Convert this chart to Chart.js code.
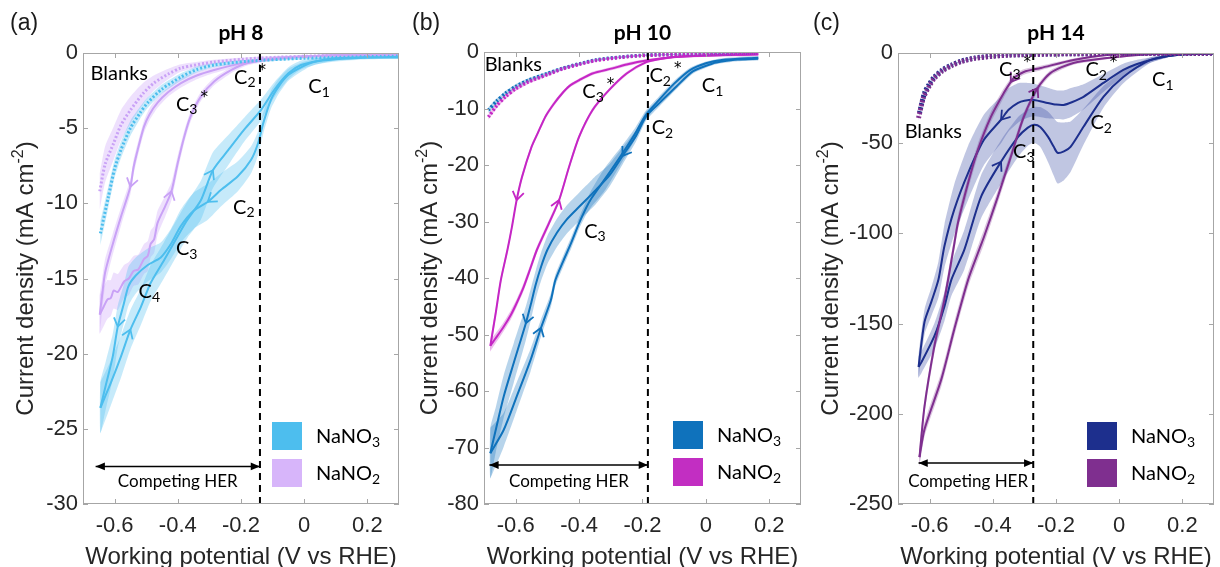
<!DOCTYPE html>
<html>
<head>
<meta charset="UTF-8">
<script src="https://cdn.jsdelivr.net/npm/chart.js@4.4.1/dist/chart.umd.min.js"></script>
<style>
  body { margin: 0; background: #fff; }
  #wrap { position: relative; width: 1220px; height: 567px; }
  canvas { position: absolute; top: 0; }
</style>
</head>
<body>
<div id="wrap">
  <canvas id="ph8" width="405" height="567" style="left:0"></canvas>
  <canvas id="ph10" width="405" height="567" style="left:405px"></canvas>
  <canvas id="ph14" width="410" height="567" style="left:810px"></canvas>
</div>
<script>
// ticks
const potTicks = [-0.6, -0.4, -0.2, 0, 0.2];
const potTickText = ['-0.6', '-0.4', '-0.2', '0', '0.2'];
const ph8CurTicks = [-30, -25, -20, -15, -10, -5, 0];
const ph10CurTicks = [-80, -70, -60, -50, -40, -30, -20, -10, 0];
const ph14CurTicks = [-250, -200, -150, -100, -50, 0];

// each point: [potential V vs RHE, current density mA/cm2, spread mA/cm2]
// ---- pH 8 ----
const ph8NO3Cath = [
  [0.30,-0.30,0.10],[0.20,-0.32,0.10],[0.10,-0.42,0.15],[0.03,-0.60,0.20],[-0.01,-0.95,0.30],
  [-0.05,-1.45,0.40],[-0.08,-2.20,0.50],[-0.105,-3.10,0.60],[-0.13,-4.70,0.70],[-0.146,-6.00,0.80],
  [-0.168,-7.10,0.90],[-0.21,-8.20,1.00],[-0.263,-9.10,1.10],[-0.305,-9.90,1.20],[-0.35,-10.50,1.20],
  [-0.39,-11.50,1.10],[-0.422,-12.70,1.00],[-0.454,-13.60,1.00],[-0.495,-14.10,1.10],[-0.533,-14.80,1.20],
  [-0.556,-15.50,1.30],[-0.571,-16.70,1.30],[-0.59,-18.20,1.40],[-0.606,-20.20,1.50],[-0.629,-22.20,1.60],
  [-0.645,-23.60,1.70]
];
const ph8NO3Anod = [
  [-0.645,-23.60,1.70],[-0.613,-22.00,1.50],[-0.58,-20.20,1.40],[-0.55,-18.40,1.30],[-0.517,-16.90,1.20],
  [-0.486,-15.30,1.20],[-0.444,-13.80,1.20],[-0.39,-11.80,1.20],[-0.37,-11.10,1.20],[-0.327,-9.80,1.30],
  [-0.289,-7.80,1.20],[-0.24,-6.45,1.00],[-0.19,-5.10,0.80],[-0.137,-3.80,0.70],[-0.095,-2.46,0.50],
  [-0.05,-1.35,0.40],[-0.01,-0.80,0.30],[0.05,-0.50,0.20],[0.10,-0.35,0.15],[0.20,-0.25,0.10],[0.30,-0.20,0.10]
];
const ph8NO2Cath = [
  [0.30,-0.08,0.05],[0.10,-0.15,0.05],[-0.10,-0.35,0.10],[-0.20,-0.69,0.15],[-0.285,-1.13,0.20],
  [-0.34,-1.50,0.25],[-0.39,-2.00,0.30],[-0.43,-2.60,0.30],[-0.464,-3.30,0.35],[-0.49,-4.10,0.40],
  [-0.507,-4.90,0.40],[-0.527,-6.45,0.45],[-0.54,-7.60,0.50],[-0.55,-8.90,0.50],[-0.58,-10.90,0.60],
  [-0.607,-12.80,0.70],[-0.63,-14.60,0.90],[-0.64,-16.20,1.10],[-0.647,-17.40,1.30]
];
const ph8NO2Anod = [
  [-0.647,-17.40,1.30],[-0.635,-16.90,1.30],[-0.623,-16.40,1.30],[-0.612,-16.30,1.20],[-0.603,-15.80,1.20],
  [-0.59,-15.90,1.20],[-0.57,-15.20,1.10],[-0.555,-15.00,1.10],[-0.54,-14.50,1.00],[-0.525,-14.40,1.00],
  [-0.507,-13.70,1.00],[-0.495,-13.50,1.00],[-0.486,-12.70,0.90],[-0.475,-12.40,0.90],[-0.464,-11.30,0.80],
  [-0.44,-10.20,0.70],[-0.42,-9.20,0.60],[-0.40,-7.30,0.50],[-0.38,-5.60,0.40],[-0.36,-4.25,0.35],
  [-0.327,-2.90,0.30],[-0.285,-1.90,0.25],[-0.23,-1.13,0.20],[-0.178,-0.67,0.15],[-0.073,-0.35,0.10],
  [0.10,-0.15,0.05],[0.30,-0.08,0.05]
];
const ph8NO3Blank = [
  [-0.645,-12.00,0.80],[-0.62,-9.60,0.70],[-0.60,-7.70,0.60],[-0.58,-6.45,0.55],[-0.55,-5.00,0.50],
  [-0.52,-4.00,0.40],[-0.495,-3.30,0.35],[-0.45,-2.40,0.30],[-0.39,-1.60,0.25],[-0.34,-1.10,0.20],
  [-0.285,-0.80,0.15],[-0.18,-0.55,0.10],[0.00,-0.35,0.08],[0.30,-0.20,0.05]
];
const ph8NO2Blank = [
  [-0.647,-9.20,1.20],[-0.63,-7.40,1.20],[-0.603,-6.00,1.10],[-0.58,-4.80,1.00],[-0.55,-3.80,0.90],
  [-0.51,-2.70,0.70],[-0.476,-2.00,0.50],[-0.43,-1.40,0.35],[-0.39,-1.00,0.25],[-0.285,-0.60,0.15],
  [-0.15,-0.35,0.10],[0.10,-0.15,0.05],[0.30,-0.10,0.05]
];

// ---- pH 10 ----
const ph10NO3Cath = [
  [0.165,-1.20,0.30],[0.10,-1.35,0.30],[0.05,-1.70,0.30],[0.023,-2.00,0.30],[-0.04,-3.40,0.40],
  [-0.093,-6.10,0.50],[-0.146,-9.00,0.60],[-0.188,-11.30,0.80],[-0.22,-14.80,1.00],[-0.263,-18.40,1.50],
  [-0.305,-21.90,2.00],[-0.347,-24.40,2.50],[-0.368,-25.60,2.50],[-0.40,-27.40,2.50],[-0.44,-29.70,2.50],
  [-0.47,-32.00,2.50],[-0.50,-35.00,2.50],[-0.52,-38.00,2.50],[-0.537,-41.20,2.50],[-0.552,-44.60,2.80],
  [-0.568,-48.00,3.00],[-0.606,-55.00,3.50],[-0.638,-61.00,3.80],[-0.663,-66.90,4.00],[-0.68,-71.00,4.50]
];
const ph10NO3Anod = [
  [-0.68,-71.00,4.50],[-0.638,-66.90,3.00],[-0.597,-61.00,2.50],[-0.553,-54.50,2.00],[-0.52,-48.80,1.50],
  [-0.489,-43.90,1.20],[-0.475,-40.40,1.00],[-0.45,-37.00,1.00],[-0.425,-33.80,1.00],[-0.40,-30.30,1.00],
  [-0.378,-27.60,1.20],[-0.36,-25.80,1.50],[-0.32,-22.60,2.00],[-0.27,-18.50,1.50],[-0.225,-14.60,1.00],
  [-0.19,-11.20,0.80],[-0.15,-8.60,0.60],[-0.10,-5.60,0.50],[-0.05,-3.20,0.40],[0.00,-2.00,0.30],
  [0.05,-1.40,0.30],[0.165,-1.00,0.30]
];
const ph10NO2Cath = [
  [0.165,-0.40,0.20],[0.00,-0.60,0.20],[-0.10,-0.90,0.20],[-0.188,-1.50,0.25],[-0.25,-2.20,0.30],
  [-0.295,-2.90,0.30],[-0.358,-3.80,0.30],[-0.40,-5.00,0.30],[-0.43,-6.00,0.30],[-0.453,-7.30,0.35],
  [-0.48,-9.20,0.40],[-0.506,-11.40,0.40],[-0.53,-14.30,0.40],[-0.55,-16.80,0.45],[-0.58,-22.10,0.50],
  [-0.597,-26.20,0.50],[-0.612,-31.00,0.60],[-0.626,-35.00,0.60],[-0.647,-40.40,0.70],[-0.663,-46.20,0.80],
  [-0.68,-52.00,1.00]
];
const ph10NO2Anod = [
  [-0.68,-52.00,1.00],[-0.665,-50.80,0.90],[-0.64,-48.80,0.80],[-0.615,-46.50,0.80],[-0.595,-44.20,0.70],
  [-0.575,-41.60,0.70],[-0.555,-38.50,0.70],[-0.533,-35.00,0.60],[-0.495,-30.30,0.60],[-0.463,-26.20,0.50],
  [-0.432,-20.40,0.50],[-0.40,-15.00,0.40],[-0.358,-10.30,0.40],[-0.305,-6.70,0.30],[-0.25,-3.80,0.30],
  [-0.188,-1.80,0.25],[-0.13,-1.10,0.20],[-0.083,-0.80,0.20],[0.165,-0.40,0.20]
];
const ph10NO3Blank = [
  [-0.686,-10.30,0.50],[-0.66,-8.70,0.45],[-0.632,-7.30,0.40],[-0.60,-6.10,0.40],[-0.56,-5.00,0.35],
  [-0.50,-3.80,0.30],[-0.453,-2.90,0.25],[-0.40,-2.10,0.20],[-0.347,-1.40,0.20],[-0.27,-0.90,0.15],
  [-0.188,-0.55,0.10],[0.00,-0.30,0.10],[0.165,-0.20,0.10]
];
const ph10NO2Blank = [
  [-0.686,-11.50,0.50],[-0.66,-9.50,0.45],[-0.632,-7.90,0.40],[-0.60,-6.50,0.40],[-0.56,-5.30,0.35],
  [-0.50,-4.00,0.30],[-0.453,-3.00,0.25],[-0.40,-2.20,0.20],[-0.347,-1.50,0.20],[-0.27,-0.95,0.15],
  [-0.188,-0.60,0.10],[0.00,-0.30,0.10],[0.165,-0.20,0.10]
];

// ---- pH 14 ----
const ph14NO3Cath = [
  [0.30,-0.30,0.30],[0.20,-0.80,0.50],[0.15,-1.80,0.80],[0.097,-4.00,1.50],[0.05,-6.50,2.50],
  [0.013,-9.40,3.50],[-0.05,-16.60,5.00],[-0.113,-24.30,7.00],[-0.15,-27.30,8.00],[-0.176,-28.80,8.00],
  [-0.20,-28.60,8.00],[-0.226,-27.70,8.50],[-0.27,-26.00,9.00],[-0.30,-26.50,10.00],[-0.32,-27.70,11.00],
  [-0.35,-31.50,12.00],[-0.374,-37.00,13.00],[-0.428,-48.10,14.00],[-0.478,-66.40,15.00],[-0.522,-86.80,14.00],
  [-0.553,-107.00,12.00],[-0.572,-125.60,10.00],[-0.594,-137.70,8.00],[-0.616,-149.00,7.00],[-0.635,-174.00,6.00]
];
const ph14NO3Anod = [
  [-0.635,-174.00,6.00],[-0.626,-171.50,6.00],[-0.585,-157.00,7.00],[-0.553,-140.50,8.00],[-0.531,-125.60,9.00],
  [-0.49,-109.00,11.00],[-0.437,-79.60,12.00],[-0.374,-60.30,12.00],[-0.32,-46.50,11.00],[-0.29,-41.50,10.00],
  [-0.27,-39.80,10.00],[-0.25,-41.00,11.00],[-0.225,-46.50,14.00],[-0.207,-52.00,16.00],[-0.195,-55.30,17.00],
  [-0.175,-54.50,16.00],[-0.154,-52.00,14.00],[-0.113,-40.90,10.00],[-0.05,-24.30,6.00],[0.013,-13.30,3.50],
  [0.097,-4.00,1.50],[0.15,-1.80,0.80],[0.20,-0.80,0.50],[0.30,-0.30,0.30]
];
const ph14NO2Cath = [
  [0.30,-0.10,0.20],[0.10,-0.50,0.30],[-0.038,-1.10,0.50],[-0.145,-3.90,0.80],[-0.248,-8.30,1.20],
  [-0.302,-10.50,1.50],[-0.333,-13.80,2.00],[-0.343,-16.00,2.00],[-0.365,-22.10,2.50],[-0.406,-35.40,3.00],
  [-0.447,-53.60,3.50],[-0.478,-71.90,4.00],[-0.51,-94.00,4.00],[-0.525,-109.00,4.00],[-0.553,-136.60,4.00],
  [-0.585,-162.60,4.00],[-0.616,-195.80,4.00],[-0.632,-224.00,5.00]
];
const ph14NO2Anod = [
  [-0.632,-224.00,5.00],[-0.616,-208.50,4.00],[-0.563,-180.90,4.00],[-0.522,-153.20,4.00],[-0.478,-125.60,4.00],
  [-0.443,-109.00,4.00],[-0.428,-102.00,4.00],[-0.384,-79.60,3.50],[-0.343,-57.50,3.00],[-0.302,-35.40,2.50],
  [-0.258,-19.40,2.00],[-0.217,-11.00,1.50],[-0.145,-5.50,1.00],[-0.038,-2.80,0.60],[0.05,-1.20,0.40],
  [0.15,-0.40,0.20],[0.30,-0.10,0.20]
];
const ph14NO3Blank = [
  [-0.632,-33.20,1.50],[-0.616,-22.10,1.20],[-0.60,-17.00,1.00],[-0.585,-13.30,0.80],[-0.56,-9.50,0.60],
  [-0.53,-6.60,0.50],[-0.50,-4.50,0.40],[-0.458,-2.80,0.30],[-0.40,-1.70,0.20],[-0.352,-1.10,0.20],
  [-0.195,-0.50,0.10],[0.00,-0.30,0.10],[0.30,-0.20,0.10]
];
const ph14NO2Blank = [
  [-0.635,-36.00,1.50],[-0.62,-25.00,1.20],[-0.60,-18.00,1.00],[-0.585,-14.00,0.80],[-0.56,-10.00,0.60],
  [-0.53,-7.00,0.50],[-0.50,-4.80,0.40],[-0.458,-3.00,0.30],[-0.40,-1.80,0.20],[-0.352,-1.20,0.20],
  [-0.195,-0.50,0.10],[0.00,-0.30,0.10],[0.30,-0.20,0.10]
];

const textFont = 'Lato, "Open Sans", sans-serif';
const axisFont = '"Liberation Sans", Arial, sans-serif';
const starFont = '"DejaVu Sans", sans-serif';

// panel settings: colours, HER onset, labels
const panels = {
  ph8: {
    tag: '(a)', tagX: 10, title: 'pH 8', yMin: -30, curTicks: ph8CurTicks, yTitleX: 33,
    pad: { left: 0, right: 6, top: 53, bottom: 0 }, yWidth: 83, blankWidth: 3,
    color: ['#4DBEEE', '#C9A2F6'], band: ['rgba(77,190,238,0.32)', 'rgba(205,165,250,0.35)'],
    swatch: ['#4DBEEE', '#D7B5FA'],
    no3: [ph8NO3Cath, ph8NO3Anod], no2: [ph8NO2Cath, ph8NO2Anod], blanks: [ph8NO3Blank, ph8NO2Blank],
    arrows: [[-0.305, -0.59], [-0.55, -0.289], [-0.55], [-0.42]],
    herOnset: -0.14, her: [-0.66, -27.5],
    notes: [['Blanks', -0.676, -1.35], ['C_3^*', -0.406, -3.4], ['C_2^*', -0.222, -1.6], ['C_1', 0.013, -2.26],
            ['C_2', -0.225, -10.25], ['C_3', -0.406, -13.0], ['C_4', -0.524, -15.9],
            ['Competing HER', -0.40, -28.5, 'center']]
  },
  ph10: {
    tag: '(b)', tagX: 7, title: 'pH 10', yMin: -80, curTicks: ph10CurTicks, yTitleX: 32,
    pad: { left: 0, right: 9, top: 52, bottom: 0 }, yWidth: 79, blankWidth: 3.5,
    color: ['#0F72BC', '#C526C5'], band: ['rgba(15,114,188,0.3)', 'rgba(197,38,197,0.3)'],
    swatch: ['#0F72BC', '#C22EC2'],
    no3: [ph10NO3Cath, ph10NO3Anod], no2: [ph10NO2Cath, ph10NO2Anod], blanks: [ph10NO3Blank, ph10NO2Blank],
    arrows: [[-0.263, -0.568], [-0.52], [-0.597], [-0.463]],
    herOnset: -0.183, her: [-0.683, -73.1],
    notes: [['Blanks', -0.698, -2.3], ['C_3^*', -0.39, -7.0], ['C_2^*', -0.178, -4.2], ['C_1', -0.013, -6.0],
            ['C_2', -0.171, -13.4], ['C_3', -0.384, -31.7],
            ['Competing HER', -0.432, -76.1, 'center']]
  },
  ph14: {
    tag: '(c)', tagX: 3, title: 'pH 14', yMin: -250, curTicks: ph14CurTicks, yTitleX: 28,
    pad: { left: 0, right: 6, top: 53, bottom: 0 }, yWidth: 88, blankWidth: 5,
    color: ['#1D2F8D', '#7F2F8F'], band: ['rgba(45,65,160,0.3)', 'rgba(127,47,143,0.28)'],
    swatch: ['#1D2F8D', '#7F2F8F'],
    no3: [ph14NO3Cath, ph14NO3Anod], no2: [ph14NO2Cath, ph14NO2Anod], blanks: [ph14NO3Blank, ph14NO2Blank],
    arrows: [[-0.374], [-0.374], [-0.343], [-0.258]],
    herOnset: -0.272, her: [-0.635, -227.3],
    notes: [['C_3^*', -0.38, -8.9], ['C_2^*', -0.107, -9.4], ['C_1', 0.104, -14.9], ['Blanks', -0.679, -43.7],
            ['C_2', -0.091, -38.7], ['C_3', -0.336, -54.8],
            ['Competing HER', -0.478, -237.8, 'center']]
  }
};

function xy(pts, k) { return pts.map(p => ({ x: p[0], y: p[1] + (k || 0) * (p[2] || 0) })); }

function line(pts, color, width, dash, arrowsAt) {
  return { data: xy(pts), borderColor: color, borderWidth: width, borderDash: dash, pointRadius: 0,
           showLine: true, fill: false, tension: 0.25, order: 1, arrowsAt: arrowsAt || [] };
}

// closed outline: upper edge forward, lower edge back
function spread(pts, color) {
  return { data: xy(pts, 1).concat(xy(pts, -1).reverse()), backgroundColor: color, borderColor: 'rgba(0,0,0,0)',
           borderWidth: 0, pointRadius: 0, showLine: true, fill: 'shape', tension: 0.2, order: 3 };
}

// parse "C_2^*" / "mA cm^{-2}" into plain, sub and sup runs
function runs(s) {
  const out = [];
  const re = /([_^])\{([^}]*)\}|([_^])(.)|([^_^]+)/g;
  let m;
  while ((m = re.exec(s))) {
    if (m[5]) out.push([m[5], '']);
    else if (m[1]) out.push([m[2], m[1] === '_' ? 'sub' : 'sup']);
    else out.push([m[4], m[3] === '_' ? 'sub' : 'sup']);
  }
  return out;
}

function drawRich(ctx, s, x, y, size, family, align) {
  const segs = runs(s).map(([t, k]) => {
    const star = t === '*';
    const fs = star ? Math.round(size * 0.75) : k ? Math.round(size * 0.68) : size;
    const fam = star ? starFont : family;
    ctx.font = fs + 'px ' + fam;
    return { t, k, fs, fam, w: ctx.measureText(t).width + (star ? 3 : 0) };
  });
  const total = segs.reduce((a, g) => a + g.w, 0);
  let cx = align === 'center' ? x - total / 2 : x;
  ctx.textAlign = 'left';
  segs.forEach(g => {
    ctx.font = g.fs + 'px ' + g.fam;
    const dy = g.k === 'sub' ? size * 0.28 : g.t === '*' ? -size * 0.32 : g.k === 'sup' ? -size * 0.42 : 0;
    ctx.fillText(g.t, cx + (g.t === '*' ? 3 : 0), y + dy);
    cx += g.w;
  });
}

const decor = {
  id: 'decor',
  afterDatasetsDraw(chart) {
    const ctx = chart.ctx;
    chart.data.datasets.forEach((ds, i) => {
      const els = chart.getDatasetMeta(i).data;
      (ds.arrowsAt || []).forEach(e => {
        let k = 1, best = Infinity;
        ds.data.forEach((p, j) => {
          if (j > 0 && j < ds.data.length - 1 && Math.abs(p.x - e) < best) { best = Math.abs(p.x - e); k = j; }
        });
        const a = els[k - 1], b = els[k + 1], c = els[k];
        const ang = Math.atan2(b.y - a.y, b.x - a.x);
        ctx.save();
        ctx.strokeStyle = ds.borderColor;
        ctx.lineWidth = 1.8;
        ctx.beginPath();
        [-0.6, 0.6].forEach(s => {
          ctx.moveTo(c.x, c.y);
          ctx.lineTo(c.x - 10 * Math.cos(ang + s), c.y - 10 * Math.sin(ang + s));
        });
        ctx.stroke();
        ctx.restore();
      });
      if (ds.heads) {
        const ends = [[els[0], els[1]], [els[els.length - 1], els[els.length - 2]]];
        ctx.save();
        ctx.fillStyle = '#000';
        ends.forEach(([tip, from]) => {
          const ang = Math.atan2(tip.y - from.y, tip.x - from.x);
          ctx.beginPath();
          ctx.moveTo(tip.x, tip.y);
          ctx.lineTo(tip.x - 10 * Math.cos(ang - 0.4), tip.y - 10 * Math.sin(ang - 0.4));
          ctx.lineTo(tip.x - 10 * Math.cos(ang + 0.4), tip.y - 10 * Math.sin(ang + 0.4));
          ctx.closePath();
          ctx.fill();
        });
        ctx.restore();
      }
    });
  },
  afterDraw(chart) {
    const p = panels[chart.canvas.id];
    const { ctx, chartArea: a } = chart;
    const x = chart.scales.x, y = chart.scales.y;
    ctx.save();

    // axes box with inward ticks
    ctx.strokeStyle = '#a6a6a6';
    ctx.lineWidth = 1;
    ctx.strokeRect(a.left + 0.5, a.top + 0.5, a.width - 1, a.height - 1);
    ctx.beginPath();
    x.ticks.forEach(t => {
      const px = Math.round(x.getPixelForValue(t.value)) + 0.5;
      ctx.moveTo(px, a.bottom); ctx.lineTo(px, a.bottom - 5);
      ctx.moveTo(px, a.top); ctx.lineTo(px, a.top + 5);
    });
    y.ticks.forEach(t => {
      const py = Math.round(y.getPixelForValue(t.value)) + 0.5;
      ctx.moveTo(a.left, py); ctx.lineTo(a.left + 5, py);
      ctx.moveTo(a.right, py); ctx.lineTo(a.right - 5, py);
    });
    ctx.stroke();

    // peak labels
    ctx.fillStyle = '#000';
    ctx.textBaseline = 'middle';
    p.notes.forEach(([s, e, j, al]) => {
      drawRich(ctx, s, x.getPixelForValue(e), y.getPixelForValue(j), al ? 17 : 20, textFont, al || 'left');
    });

    // legend swatches
    ['NaNO_3', 'NaNO_2'].forEach((s, i) => {
      const top = a.top + 369 + i * 37;
      ctx.fillStyle = p.swatch[i];
      ctx.fillRect(a.left + 189, top, 30, 28);
      ctx.fillStyle = '#000';
      drawRich(ctx, s, a.left + 233, top + 15, 20, textFont, 'left');
    });

    // titles
    const cx = (a.left + a.right) / 2;
    ctx.textBaseline = 'alphabetic';
    ctx.fillStyle = '#000';
    ctx.textAlign = 'center';
    ctx.font = 'bold 21px ' + textFont;
    ctx.fillText(p.title, cx, 40);
    ctx.textAlign = 'left';
    ctx.font = '23px ' + axisFont;
    ctx.fillStyle = '#1a1a1a';
    ctx.fillText(p.tag, p.tagX, 30);
    ctx.fillStyle = '#262626';
    drawRich(ctx, 'Working potential (V vs RHE)', cx, 564, 24, axisFont, 'center');
    ctx.translate(p.yTitleX, (a.top + a.bottom) / 2);
    ctx.rotate(-Math.PI / 2);
    drawRich(ctx, 'Current density (mA cm^{-2})', 0, 0, 24, axisFont, 'center');
    ctx.restore();
  }
};

function makePanel(id) {
  const p = panels[id];
  const datasets = [
    spread(p.blanks[0], p.band[0]), spread(p.blanks[1], p.band[1]),
    spread(p.no3[0], p.band[0]), spread(p.no3[1], p.band[0]),
    spread(p.no2[0], p.band[1]), spread(p.no2[1], p.band[1]),
    line(p.blanks[1], p.color[1], p.blankWidth, [2, 2]),
    line(p.blanks[0], p.color[0], p.blankWidth, [2, 2]),
    line(p.no2[0], p.color[1], 2, [], p.arrows[2]),
    line(p.no2[1], p.color[1], 2, [], p.arrows[3]),
    line(p.no3[0], p.color[0], 2, [], p.arrows[0]),
    line(p.no3[1], p.color[0], 2, [], p.arrows[1]),
    { data: [{ x: p.herOnset, y: p.yMin }, { x: p.herOnset, y: 0 }], borderColor: '#000', borderWidth: 2,
      borderDash: [7, 5], pointRadius: 0, showLine: true, order: 0 },
    { data: [{ x: p.her[0], y: p.her[1] }, { x: p.herOnset, y: p.her[1] }], borderColor: '#000', borderWidth: 1.5,
      pointRadius: 0, showLine: true, order: 0, heads: true }
  ];
  new Chart(document.getElementById(id), {
    type: 'scatter',
    data: { datasets },
    plugins: [decor],
    options: {
      responsive: false, animation: false, events: [], devicePixelRatio: 1,
      layout: { padding: p.pad },
      plugins: { legend: { display: false }, tooltip: { enabled: false } },
      scales: {
        x: {
          type: 'linear', min: -0.7, max: 0.3,
          afterBuildTicks: s => { s.ticks = potTicks.map(v => ({ value: v })); },
          afterFit: s => { s.height = 63; },
          grid: { display: false, drawTicks: false }, border: { display: false },
          ticks: { autoSkip: false, maxRotation: 0, padding: 9, color: '#262626',
                   font: { size: 22, family: axisFont }, callback: (v, i) => potTickText[i] }
        },
        y: {
          type: 'linear', min: p.yMin, max: 0,
          afterBuildTicks: s => { s.ticks = p.curTicks.map(v => ({ value: v })); },
          afterFit: s => { s.width = p.yWidth; },
          grid: { display: false, drawTicks: false }, border: { display: false },
          ticks: { autoSkip: false, padding: 5, color: '#262626',
                   font: { size: 22, family: axisFont }, callback: v => String(v) }
        }
      }
    }
  });
}

['ph8', 'ph10', 'ph14'].forEach(makePanel);
</script>
</body>
</html>
